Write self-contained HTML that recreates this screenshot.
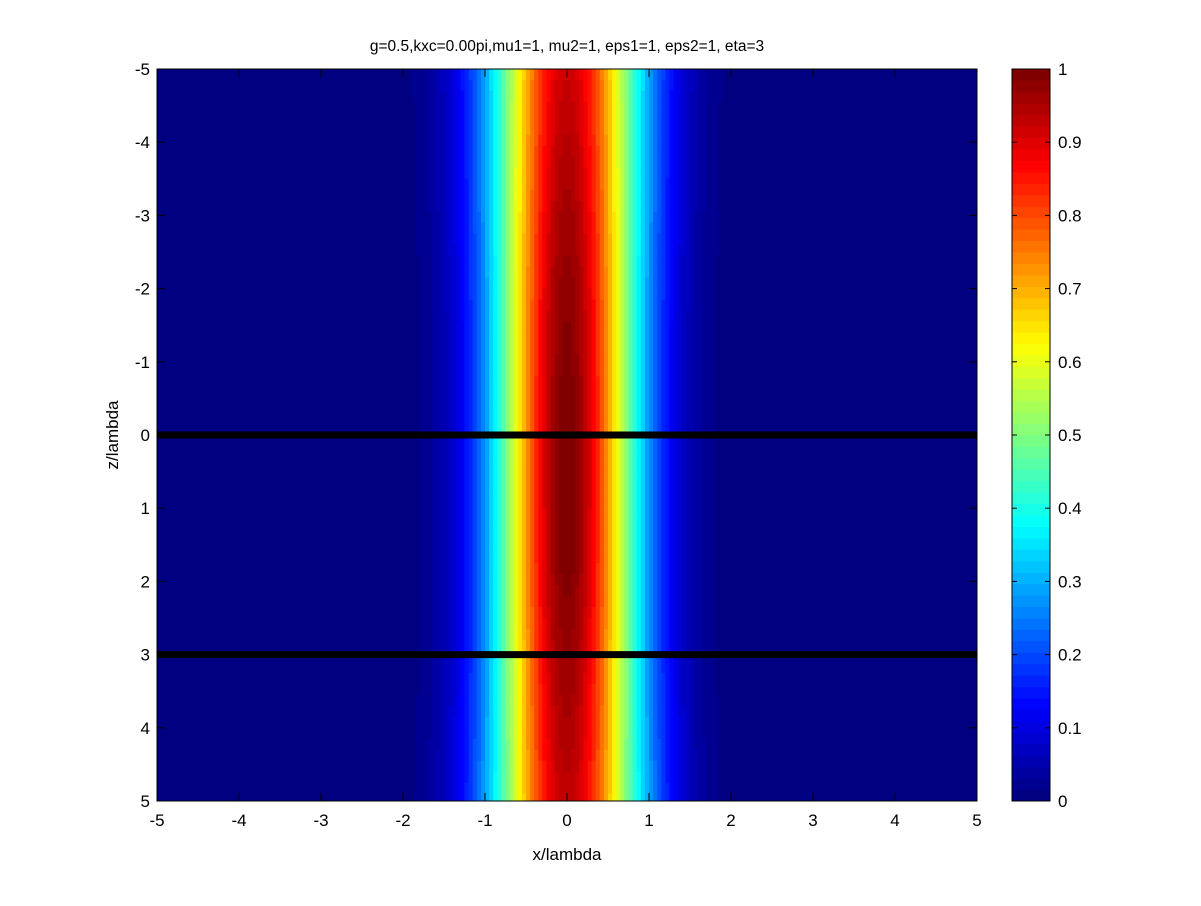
<!DOCTYPE html>
<html><head><meta charset="utf-8"><style>
body{margin:0;background:#fff;}
svg text{font-family:"Liberation Sans",sans-serif;font-size:17px;fill:#000;}
</style></head><body>
<svg id="fig" width="1201" height="901" viewBox="0 0 1201 901">
<rect width="1201" height="901" fill="#fff"/>
<g id="heat"></g>
<g id="cbar"></g>
<g id="axes"></g>
<text x="567" y="51" text-anchor="middle" style="font-size:15.5px">g=0.5,kxc=0.00pi,mu1=1, mu2=1, eps1=1, eps2=1, eta=3</text>
<text x="567" y="860" text-anchor="middle">x/lambda</text>
<text transform="translate(118,435) rotate(-90)" text-anchor="middle">z/lambda</text>
</svg>
<script>
// data
const zKnots=[-5,-4,-3,-2,-1,0,1,2,3,4,5];
const beamWidth=[1.32,1.3,1.28,1.26,1.25,1.24,1.24,1.25,1.26,1.28,1.3];
const beamPeak=[0.92,0.94,0.96,0.98,0.99,1.0,1.0,0.99,0.97,0.95,0.93];
const interfaceZ=[0,3];
const xTicks=[-5,-4,-3,-2,-1,0,1,2,3,4,5];
const zTicks=[-5,-4,-3,-2,-1,0,1,2,3,4,5];
const cTicks=[0,0.1,0.2,0.3,0.4,0.5,0.6,0.7,0.8,0.9,1];

const L=157,R=977,T=69,B=801;
const sx=x=>L+(x+5)/10*(R-L);
const sz=z=>T+(z+5)/10*(B-T);
const NS="http://www.w3.org/2000/svg";
function jet(v){v=Math.max(0,Math.min(1,v));v=Math.floor(v*63.999)/63;
 const r=Math.min(1,Math.max(0,1.5-Math.abs(4*v-3))),g=Math.min(1,Math.max(0,1.5-Math.abs(4*v-2))),b=Math.min(1,Math.max(0,1.5-Math.abs(4*v-1)));
 return `rgb(${Math.round(r*255)},${Math.round(g*255)},${Math.round(b*255)})`;}
function knot(arr,z){const t=(z+5);const i=Math.min(arr.length-2,Math.floor(t));const f=t-i;return arr[i]*(1-f)+arr[i+1]*f;}
const heat=document.getElementById('heat');
const dx=0.05,dz=0.15,nz=Math.ceil(10/dz);
for(let j=0;j<nz;j++){
 const z0=-5+j*dz,z1=Math.min(5,z0+dz),zc=(z0+z1)/2;
 const w=knot(beamWidth,zc),p=knot(beamPeak,zc);
 for(let i=0;i<200;i++){
  const x0=-5+i*dx,xc=x0+dx/2;
  const v=p*Math.exp(-2*xc*xc/(w*w));
  const r=document.createElementNS(NS,'rect');
  r.setAttribute('x',sx(x0));r.setAttribute('y',sz(z0));
  r.setAttribute('width',sx(x0+dx)-sx(x0)+0.5);r.setAttribute('height',sz(z1)-sz(z0)+0.5);
  r.setAttribute('fill',jet(v));
  
  
  heat.appendChild(r);
 }
}
const axes=document.getElementById('axes');
function el(tag,attrs,parent,text){const e=document.createElementNS(NS,tag);for(const k in attrs)e.setAttribute(k,attrs[k]);if(text!==undefined)e.textContent=text;parent.appendChild(e);return e;}
interfaceZ.forEach(z=>{
 const l=el('line',{x1:L,x2:R,y1:sz(z),y2:sz(z),stroke:'#000','stroke-width':7},axes);
 
 
});
const box=el('rect',{x:L,y:T,width:R-L,height:B-T,fill:'none',stroke:'#000','stroke-width':1},axes);


xTicks.forEach(v=>{
 const x=sx(v);
 el('line',{x1:x,x2:x,y1:B,y2:B-8,stroke:'#000'},axes);
 el('line',{x1:x,x2:x,y1:T,y2:T+8,stroke:'#000'},axes);
 const t=el('text',{x:x,y:B+25,'text-anchor':'middle'},axes,String(v));
 
 
});
zTicks.forEach(v=>{
 const y=sz(v);
 el('line',{x1:L,x2:L+8,y1:y,y2:y,stroke:'#000'},axes);
 el('line',{x1:R,x2:R-8,y1:y,y2:y,stroke:'#000'},axes);
 const t=el('text',{x:L-7,y:y+6,'text-anchor':'end'},axes,String(v));
 
 
});
// colorbar
const cb=document.getElementById('cbar');const CL=1012,CR=1050;
const cy=v=>B-v*(B-T);
for(let k=0;k<64;k++){
 const r=el('rect',{x:CL,y:cy((k+1)/64),width:CR-CL,height:(B-T)/64+0.5,fill:jet(k/63)},cb);
 
 
}
el('rect',{x:CL,y:T,width:CR-CL,height:B-T,fill:'none',stroke:'#000'},cb);
cTicks.forEach(v=>{
 const y=cy(v);
 el('line',{x1:CL,x2:CL+5,y1:y,y2:y,stroke:'#000'},cb);
 el('line',{x1:CR,x2:CR-5,y1:y,y2:y,stroke:'#000'},cb);
 const t=el('text',{x:CR+8,y:y+6},cb,String(v));
 
 
});
</script>
</body></html>
